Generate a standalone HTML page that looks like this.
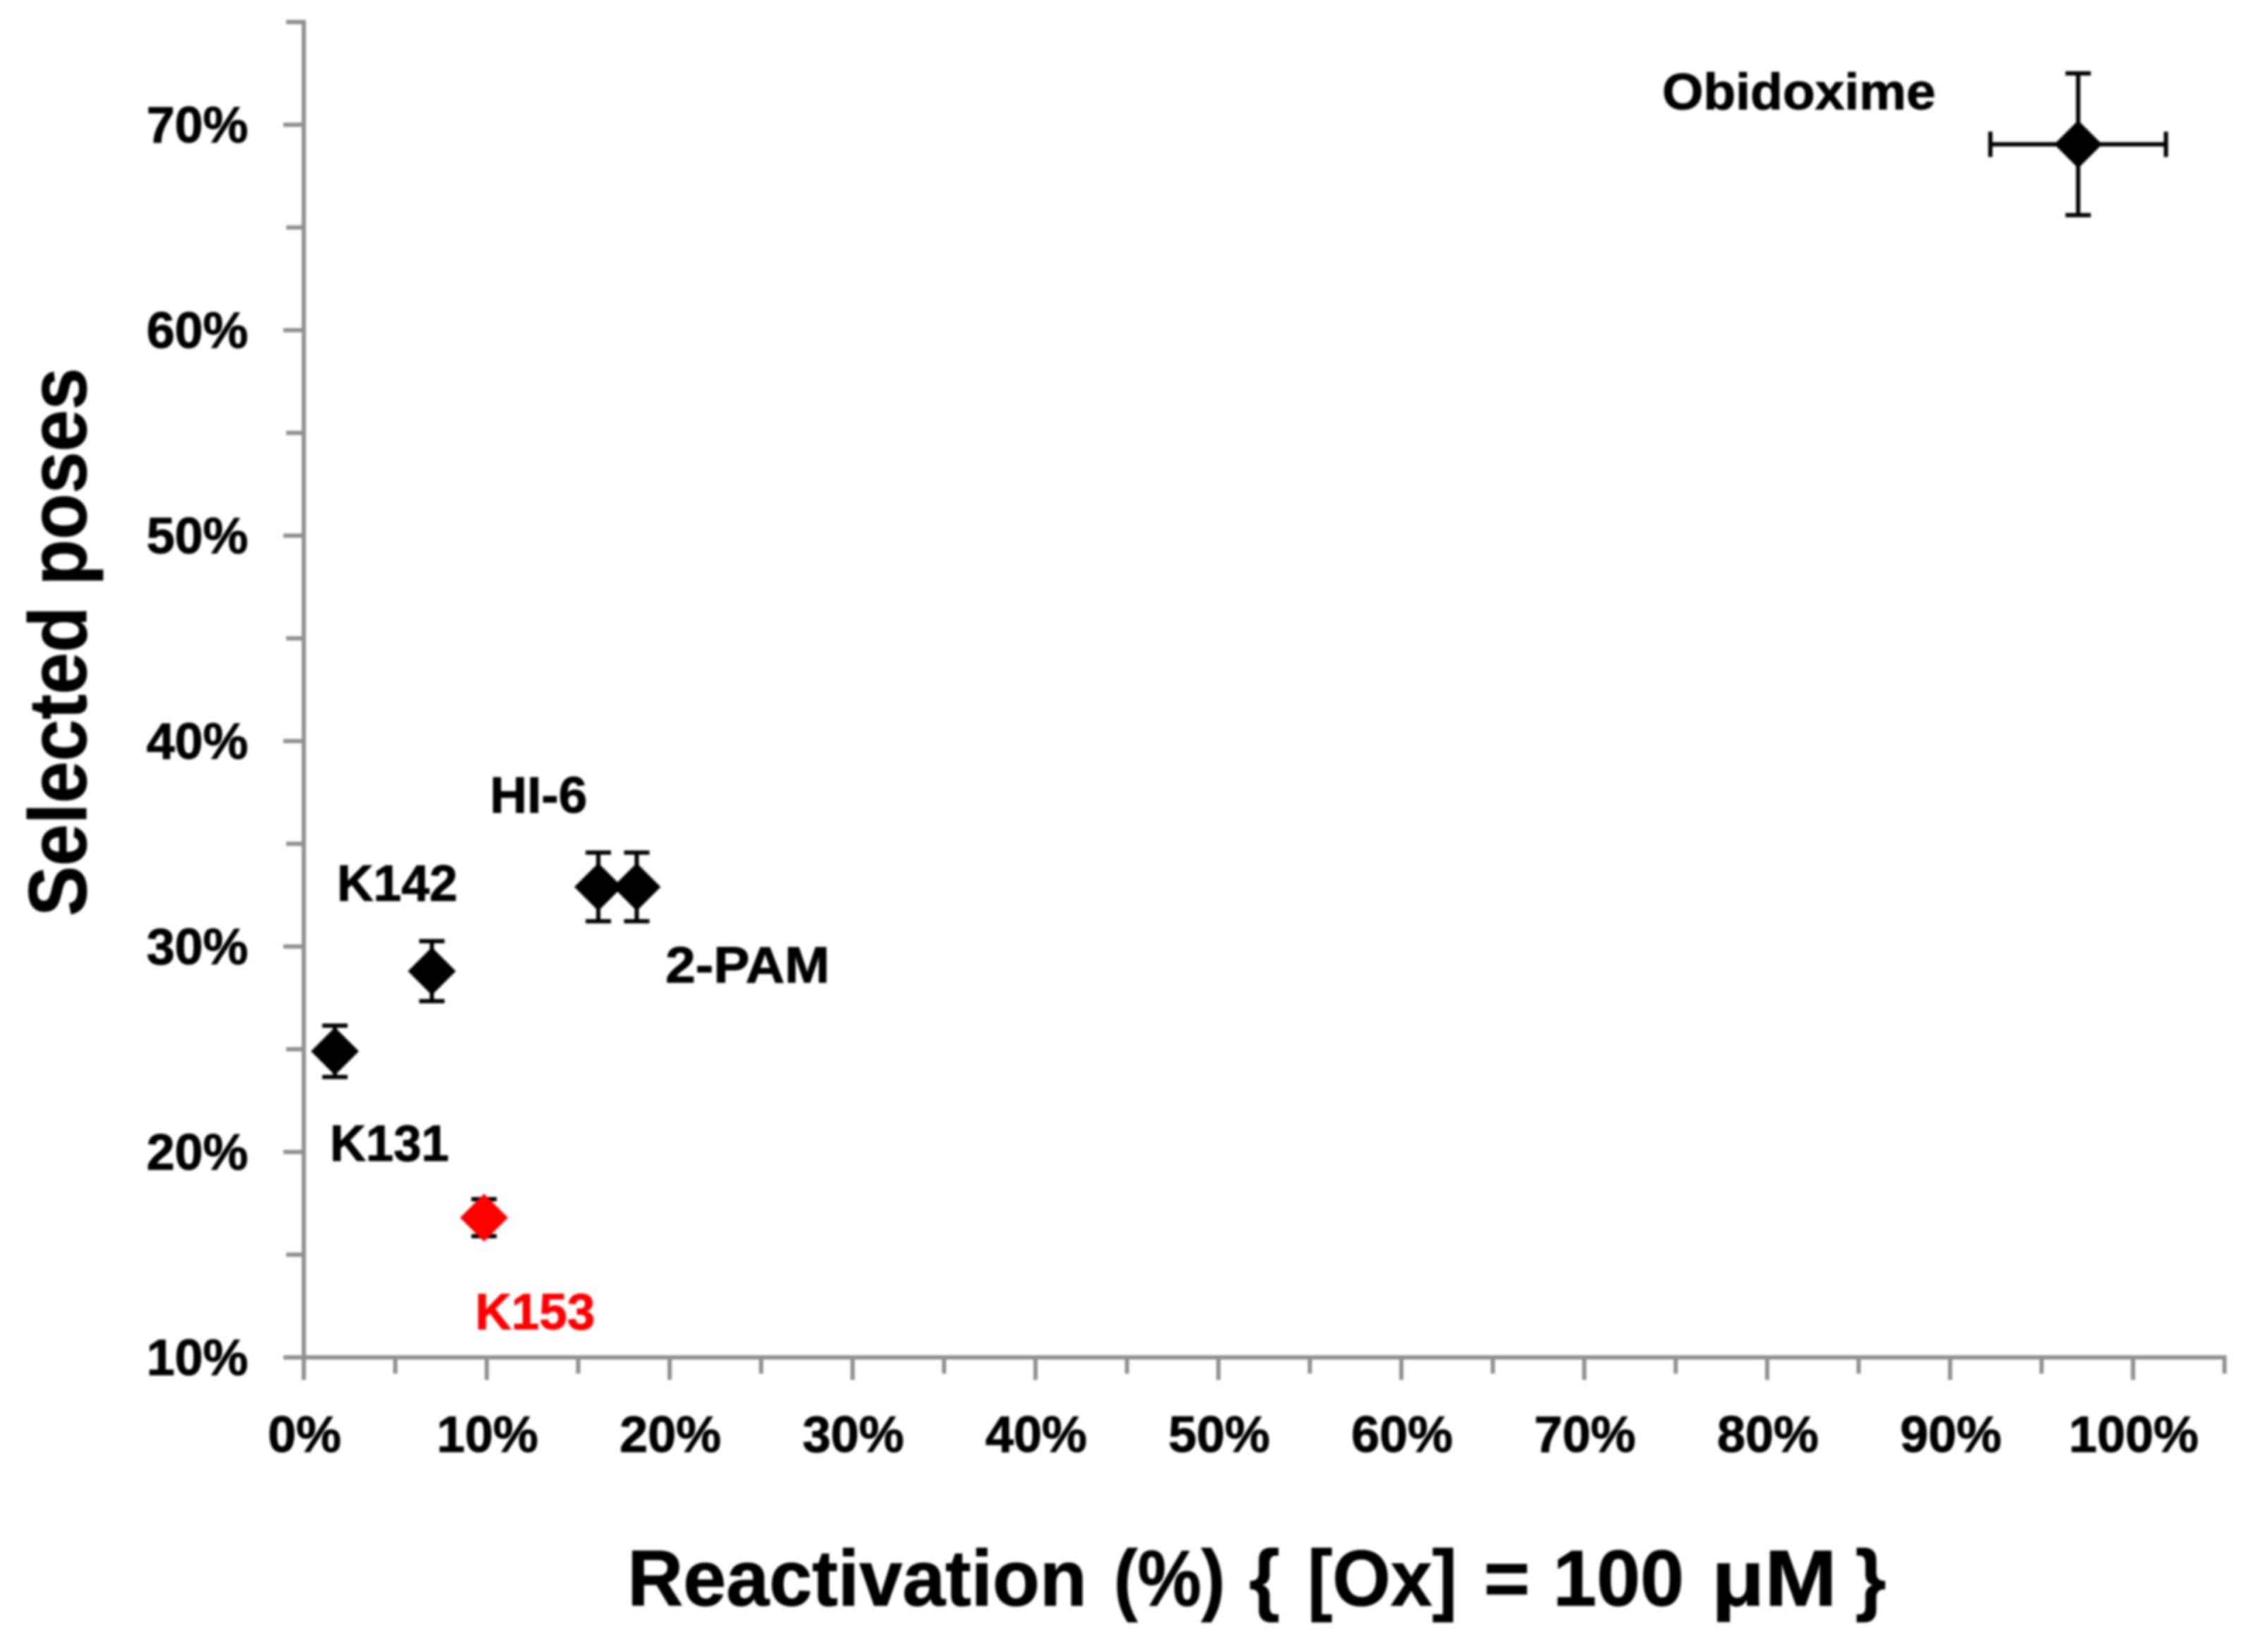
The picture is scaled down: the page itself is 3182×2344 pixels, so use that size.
<!DOCTYPE html>
<html lang="en">
<head>
<meta charset="utf-8">
<title>Selected poses vs reactivation</title>
<style>
html,body{margin:0;padding:0;background:#fff;width:3182px;height:2344px;overflow:hidden}
svg{display:block;filter:blur(1.5px)}
text{font-family:"Liberation Sans",sans-serif;font-weight:bold;fill:#000;stroke:#000;stroke-width:1px}
</style>
</head>
<body>
<svg id="chart" xmlns="http://www.w3.org/2000/svg" width="3182" height="2344" viewBox="0 0 3182 2344">
  <g id="axes"></g>
  <g id="marks"></g>
  <text y="2278" font-size="112"><tspan x="890" textLength="652" lengthAdjust="spacingAndGlyphs">Reactivation</tspan> <tspan x="1580" textLength="158" lengthAdjust="spacingAndGlyphs">(%)</tspan> <tspan x="1772">{</tspan> <tspan x="1855" textLength="212" lengthAdjust="spacingAndGlyphs">[Ox]</tspan> <tspan x="2105">=</tspan> <tspan x="2203" textLength="186" lengthAdjust="spacingAndGlyphs">100</tspan> <tspan x="2428" textLength="178" lengthAdjust="spacingAndGlyphs">μM</tspan> <tspan x="2632">}</tspan></text>
  <text transform="translate(122,1300) rotate(-90)" font-size="116" textLength="778" lengthAdjust="spacingAndGlyphs">Selected poses</text>
  <text x="2358" y="155" font-size="72" textLength="388" lengthAdjust="spacingAndGlyphs">Obidoxime</text>
  <text x="695" y="1153" font-size="72" textLength="138" lengthAdjust="spacingAndGlyphs">HI-6</text>
  <text x="478" y="1278" font-size="72" textLength="171" lengthAdjust="spacingAndGlyphs">K142</text>
  <text x="944" y="1394" font-size="72" textLength="233" lengthAdjust="spacingAndGlyphs">2-PAM</text>
  <text x="468" y="1647" font-size="72" textLength="169" lengthAdjust="spacingAndGlyphs">K131</text>
  <text x="674" y="1886" font-size="72" textLength="170" lengthAdjust="spacingAndGlyphs" style="fill:#ff0000;stroke:#ff0000">K153</text>
</svg>
<script>
// Chart data
const compounds = ['Obidoxime', 'HI-6', '2-PAM', 'K142', 'K131', 'K153'];
const reactivation = [97.0, 16.1, 18.2, 7.0, 1.7, 9.85];
const selectedPoses = [69.05, 32.9, 32.9, 28.8, 24.9, 16.8];
const reactivationError = [4.8, 0, 0, 0, 0, 0];
const posesError = [3.45, 1.67, 1.67, 1.46, 1.25, 0.9];
const markerColors = ['#000000', '#000000', '#000000', '#000000', '#000000', '#ff0000'];
const xTickValues = [0, 10, 20, 30, 40, 50, 60, 70, 80, 90, 100];
const xTickLabels = ['0%', '10%', '20%', '30%', '40%', '50%', '60%', '70%', '80%', '90%', '100%'];
const xMinorValues = [5, 15, 25, 35, 45, 55, 65, 75, 85, 95, 105];
const yTickValues = [10, 20, 30, 40, 50, 60, 70];
const yTickLabels = ['10%', '20%', '30%', '40%', '50%', '60%', '70%'];
const yMinorValues = [15, 25, 35, 45, 55, 65, 75];

const NS = 'http://www.w3.org/2000/svg';
const axisColor = '#8f8f8f';
const xLeft = 431, xPerUnit = 25.95;
const yBase = 1926, yPerUnit = 29.15;
function xScale(v) { return xLeft + v * xPerUnit; }
function yScale(v) { return yBase - (v - 10) * yPerUnit; }

function makeLine(parent, x1, y1, x2, y2, color, width) {
  const el = document.createElementNS(NS, 'line');
  el.setAttribute('x1', x1);
  el.setAttribute('y1', y1);
  el.setAttribute('x2', x2);
  el.setAttribute('y2', y2);
  el.setAttribute('stroke', color);
  el.setAttribute('stroke-width', width);
  parent.appendChild(el);
  return el;
}
function makeText(parent, x, y, str, anchor) {
  const el = document.createElementNS(NS, 'text');
  el.setAttribute('x', x);
  el.setAttribute('y', y);
  el.setAttribute('font-size', '72');
  el.setAttribute('text-anchor', anchor);
  el.textContent = str;
  parent.appendChild(el);
  return el;
}

const axes = document.getElementById('axes');
const marks = document.getElementById('marks');

// Axis lines
const xAxisLine = makeLine(axes, xLeft - 27, yScale(10), xScale(105) + 3, yScale(10), axisColor, 6);


const yAxisLine = makeLine(axes, xLeft, yScale(75) - 3, xLeft, yScale(10) + 32, axisColor, 6);



// X ticks
xTickValues.forEach(function (v, i) {
  const tick = makeLine(axes, xScale(v), yScale(10), xScale(v), yScale(10) + 32, axisColor, 6);
  
  
  const label = makeText(axes, xScale(v) + 1, 2060, xTickLabels[i], 'middle');
  
  
});
xMinorValues.forEach(function (v) {
  const tick = makeLine(axes, xScale(v), yScale(10), xScale(v), yScale(10) + 23, axisColor, 6);
  
  
});

// Y ticks
yTickValues.forEach(function (v, i) {
  const tick = makeLine(axes, xLeft - 29, yScale(v), xLeft, yScale(v), axisColor, 6);
  
  
  const label = makeText(axes, 352, yScale(v) + 25, yTickLabels[i], 'end');
  
  
});
yMinorValues.forEach(function (v) {
  const tick = makeLine(axes, xLeft - 25, yScale(v), xLeft, yScale(v), axisColor, 6);
  
  
});

// Data points with error bars
const capHalf = 18, markerHalf = 34, errWidth = 6;
compounds.forEach(function (name, i) {
  const slug = name.toLowerCase();
  const g = document.createElementNS(NS, 'g');
  
  
  marks.appendChild(g);
  const cx = xScale(reactivation[i]);
  const cy = yScale(selectedPoses[i]);
  const yTop = yScale(selectedPoses[i] + posesError[i]);
  const yBot = yScale(selectedPoses[i] - posesError[i]);
  const vBar = makeLine(g, cx, yTop, cx, yBot, '#000', errWidth);
  
  
  const capA = makeLine(g, cx - capHalf, yTop, cx + capHalf, yTop, '#000', errWidth);
  
  
  const capB = makeLine(g, cx - capHalf, yBot, cx + capHalf, yBot, '#000', errWidth);
  
  
  if (reactivationError[i] > 0) {
    const xL = xScale(reactivation[i] - reactivationError[i]);
    const xR = xScale(reactivation[i] + reactivationError[i]);
    const hBar = makeLine(g, xL, cy, xR, cy, '#000', errWidth);
    
    
    const capL = makeLine(g, xL, cy - capHalf, xL, cy + capHalf, '#000', errWidth);
    
    
    const capR = makeLine(g, xR, cy - capHalf, xR, cy + capHalf, '#000', errWidth);
    
    
  }
  const d = document.createElementNS(NS, 'polygon');
  d.setAttribute('points', [cx, cy - markerHalf, cx + markerHalf, cy, cx, cy + markerHalf, cx - markerHalf, cy].join(' '));
  d.setAttribute('fill', markerColors[i]);
  
  
  g.appendChild(d);
});
</script>
</body>
</html>
